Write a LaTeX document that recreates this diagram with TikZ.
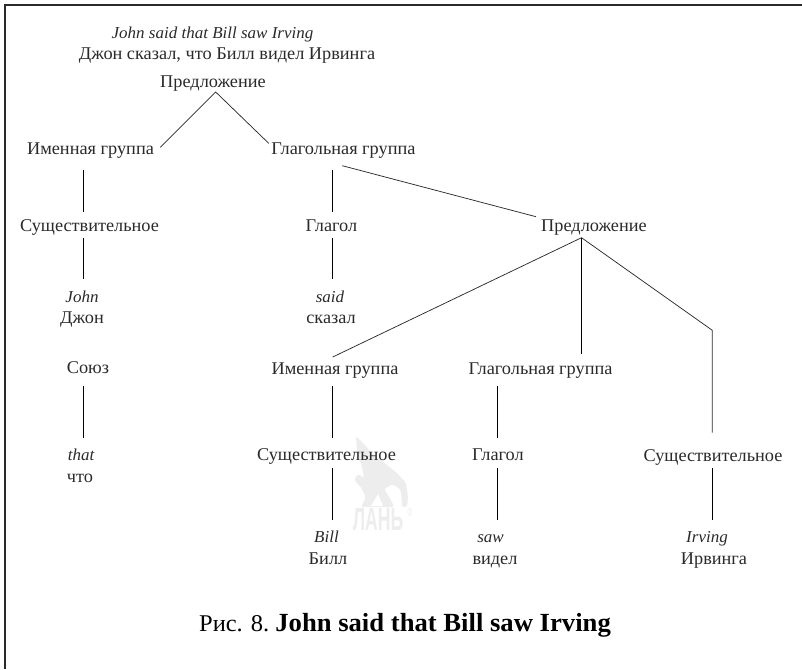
\documentclass[tikz,border=0pt]{standalone}
\usepackage{fontspec}
\setmainfont[FakeStretch=1.02]{Liberation Serif}
\newfontfamily\wmfont[FakeStretch=0.55]{Liberation Sans}
\definecolor{ink}{HTML}{2A2A2A}
\definecolor{wm}{HTML}{EDEDED}
\tikzset{
  lbl/.style={inner sep=0pt,text=ink,font=\fontsize{13.45pt}{15pt}\selectfont,anchor=base},
  ital/.style={lbl,font=\fontsize{12.5pt}{15pt}\selectfont\itshape},
  edge/.style={draw=ink,line width=0.55pt},
  vedge/.style={draw=black,line width=0.6pt},
  captext/.style={inner sep=0pt,text=black,font=\fontsize{18pt}{20pt}\selectfont,anchor=base},
}
\begin{document}
\begin{tikzpicture}[x=0.75pt,y=-0.75pt]
\useasboundingbox (0,0) rectangle (802,669);
\fill[white] (0,0) rectangle (802,669);
\draw[draw=ink,line width=0.9pt] (802,5) -- (5,5) -- (5,669);
% watermark
\fill[wm,rounded corners=1.5pt] (356,436) -- (366,446) -- (372,454) -- (382,461) -- (397,473) -- (406,483) -- (408,497) -- (407,507) -- (402,507) -- (401,490) -- (393,484) -- (384,489) -- (391,500) -- (394,507) -- (361,507) -- (366,497) -- (361,487) -- (354,480) -- (358,474) -- (364,478) -- (362,466) -- (357,452) -- cycle;
\fill[white] (371,506) -- (383,506) -- (378,494) -- cycle;
\node[inner sep=0pt,anchor=base,text=wm,font=\fontsize{24pt}{24pt}\wmfont\bfseries] (wmk) at (378,530) {ЛАНЬ};
\node[inner sep=0pt,anchor=center,text=wm,font=\fontsize{9pt}{9pt}\wmfont] (wmr) at (410,512) {®};
% labels (coordinates give the baseline)
\node[ital] (t1) at (212.5,38.5) {John said that Bill saw Irving};
\node[lbl] (t2) at (227,59.5) {Джон сказал, что Билл видел Ирвинга};
\node[lbl] (s1) at (213,87) {Предложение};
\node[lbl] (np1) at (90.5,154) {Именная группа};
\node[lbl] (vp1) at (343.5,154) {Глагольная группа};
\node[lbl] (n1) at (89.5,231) {Существительное};
\node[lbl] (v1) at (331.5,231) {Глагол};
\node[lbl] (s2) at (594,231) {Предложение};
\node[ital] (john) at (82,302) {John};
\node[lbl] (ru1) at (82,323) {Джон};
\node[ital] (said) at (330,302) {said};
\node[lbl] (ru2) at (331,323) {сказал};
\node[lbl] (conj) at (88,373) {Союз};
\node[ital] (that) at (81,460) {that};
\node[lbl] (ru3) at (80,482) {что};
\node[lbl] (np2) at (335,374) {Именная группа};
\node[lbl] (vp2) at (540.5,374) {Глагольная группа};
\node[lbl] (n2) at (326.5,460) {Существительное};
\node[lbl] (v2) at (498,460) {Глагол};
\node[lbl] (n3) at (713,461) {Существительное};
\node[ital] (bill) at (326.5,542) {Bill};
\node[lbl] (ru4) at (328,564) {Билл};
\node[ital] (saw) at (490.5,542) {saw};
\node[lbl] (ru5) at (495,564) {видел};
\node[ital] (irv) at (707,542) {Irving};
\node[lbl] (ru6) at (714,564) {Ирвинга};
\node[captext] (figcap) at (405,631) {Рис. 8.\hspace{4.5pt}{\fontsize{19.6pt}{20pt}\selectfont\bfseries John said that Bill saw Irving}};
% connector ends
\coordinate (a) at (215.7,92);
\coordinate (a1) at (160.3,147.3);
\coordinate (a2) at (268.7,143.3);
\coordinate (b) at (581.5,237.7);
\coordinate (b1) at (332.7,357);
\coordinate (b2) at (581.5,354.3);
\coordinate (b3) at (712.3,330.3);
\coordinate (b4) at (712.3,432.7);
\coordinate (c1) at (342.3,165.7);
\coordinate (c2) at (536,216.7);
\foreach \nm/\px/\ya/\yb in {p/83.3/170/212, q/83.3/238/279.3, r/332.3/170/212, u/332.3/238/279.3, v/83.3/386/437.7, w/332.3/385.7/437.7, x/332.3/468/519.7, y/497.3/385.7/437.7, z/497.3/468/519.7, k/712.3/468/519.7}{
  \coordinate (\nm1) at (\px,\ya);
  \coordinate (\nm2) at (\px,\yb);
  \draw[vedge] (\nm1) -- (\nm2);
}
\draw[edge] (a1) -- (a) -- (a2);
\draw[edge] (c1) -- (c2);
\draw[edge] (b1) -- (b) -- (b3) -- (b4);
\draw[vedge] (b) -- (b2);
\end{tikzpicture}
\end{document}
